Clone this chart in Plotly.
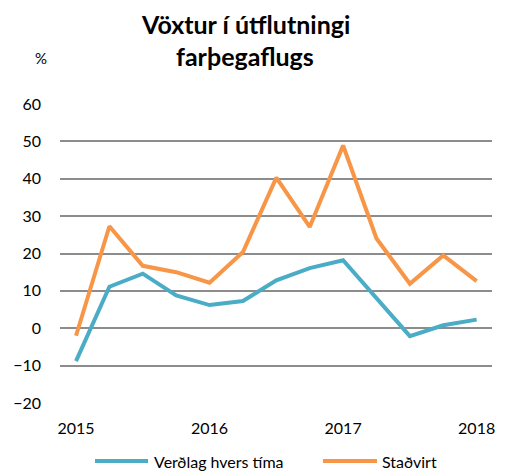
import plotly.graph_objects as go

quarters = ["2015Q1", "2015Q2", "2015Q3", "2015Q4",
            "2016Q1", "2016Q2", "2016Q3", "2016Q4",
            "2017Q1", "2017Q2", "2017Q3", "2017Q4",
            "2018Q1"]
tick_vals = ["2015Q1", "2016Q1", "2017Q1", "2018Q1"]
tick_text = ["2015", "2016", "2017", "2018"]

series_names = ["Verðlag hvers tíma", "Staðvirt"]
verdlag = [-8.8, 11.1, 14.6, 8.8, 6.2, 7.3, 12.8, 16.1, 18.2, 8.0, -2.1, 0.8, 2.3]
stadvirt = [-2.0, 27.3, 16.7, 15.0, 12.2, 20.4, 40.3, 27.1, 48.9, 24.0, 11.9, 19.5, 12.6]
colors = ["#4bacc6", "#f79646"]

font_family = "Lato, 'Open Sans', sans-serif"

fig = go.Figure()
for name, vals, col in zip(series_names, [verdlag, stadvirt], colors):
    fig.add_trace(go.Scatter(x=quarters, y=vals, mode="lines", name=name,
                             line=dict(color=col, width=4), showlegend=False,
                             hoverinfo="skip"))

plot_l, plot_r, plot_t, plot_b = 60, 492, 104, 403

fig.update_layout(
    width=506, height=471,
    margin=dict(l=plot_l, r=506 - plot_r, t=plot_t, b=471 - plot_b, autoexpand=False),
    paper_bgcolor="white", plot_bgcolor="white",
    font=dict(family=font_family, size=16, color="#000000"),
    showlegend=False,
    xaxis=dict(type="category", categoryorder="array", categoryarray=quarters,
               range=[-0.48, 12.46], tickvals=tick_vals, ticktext=tick_text,
               showgrid=False, showline=False, zeroline=False, ticks="",
               tickfont=dict(size=16), ticklabelstandoff=14),
    yaxis=dict(range=[-20, 60], dtick=10, tick0=0, showgrid=True,
               gridcolor="#8c8c8c", gridwidth=1.5, zeroline=False, showline=False,
               ticks="", tickfont=dict(size=16), ticklabelstandoff=18),
)

def fx(px):
    return (px - plot_l) / (plot_r - plot_l)

def fy(py):
    return (plot_b - py) / (plot_b - plot_t)

def px_ann(text, px, py, size, xanchor="center"):
    fig.add_annotation(text=text, xref="paper", yref="paper",
                       x=fx(px), y=fy(py),
                       xanchor=xanchor, yanchor="middle", showarrow=False,
                       font=dict(size=size, family=font_family))

px_ann("<b>Vöxtur í útflutningi</b>", 245, 24, 25)
px_ann("<b>farþegaflugs</b>", 245, 56, 25)
px_ann("%", 41, 58, 15)

# manual legend
legend_items = [(95, 148, 152), (323, 377, 380)]
for (x0, x1, tx), name, col in zip(legend_items, series_names, colors):
    fig.add_shape(type="line", xref="paper", yref="paper",
                  x0=fx(x0), x1=fx(x1), y0=fy(461), y1=fy(461),
                  line=dict(color=col, width=4))
    px_ann(name, tx, 461, 16, xanchor="left")

fig.write_html("out.html", config={"displayModeBar": False},
               post_script="document.body.style.margin='0';"
               "document.body.style.padding='0';"
               "window.dispatchEvent(new Event('resize'));")
